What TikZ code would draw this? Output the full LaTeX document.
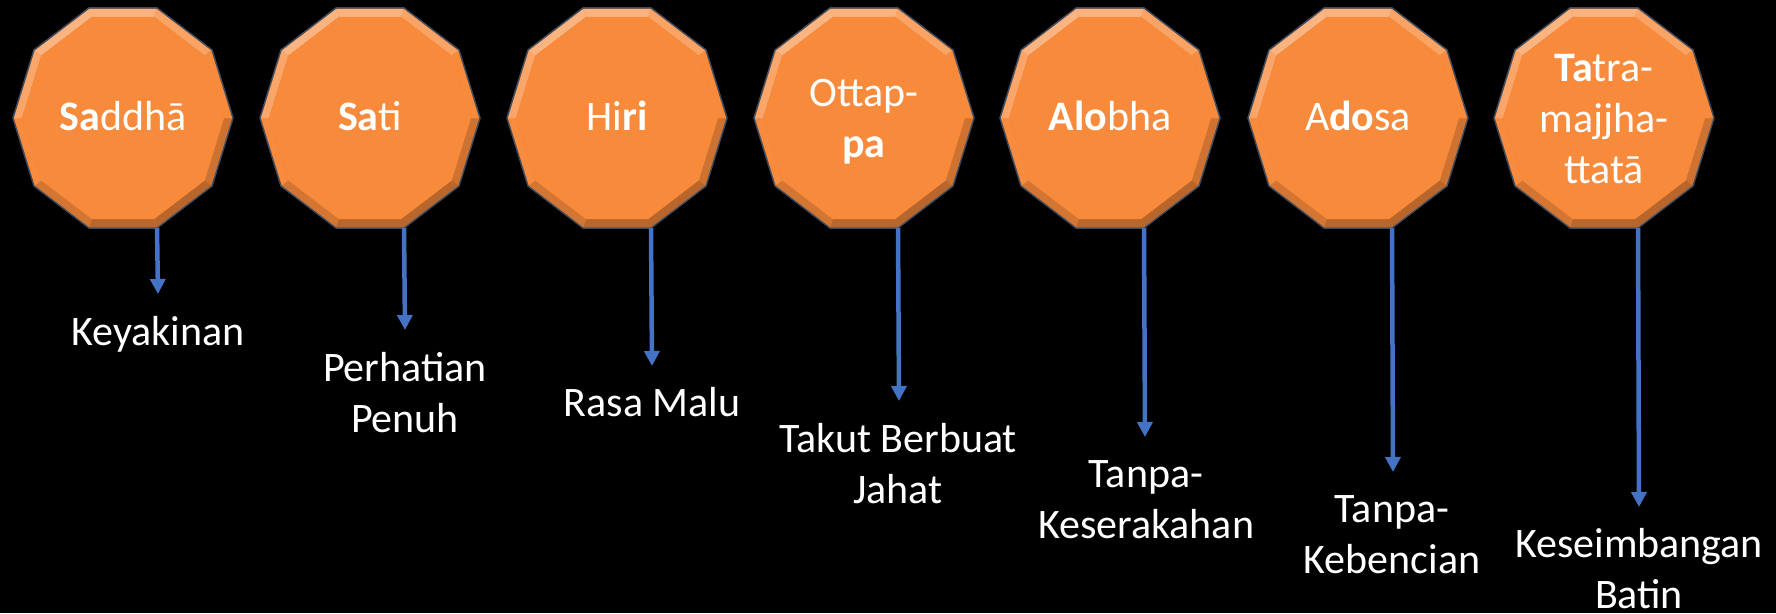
\documentclass[tikz,border=0pt]{standalone}
\usepackage{fontspec}
\setmainfont{Carlito}
\usetikzlibrary{arrows.meta}
\definecolor{orfill}{HTML}{F88A3C}
\definecolor{arrblue}{HTML}{4472C4}
\definecolor{rimline}{HTML}{3F4D60}
\tikzset{
  shapetext/.style={anchor=base, align=center, text=white, inner sep=0pt,
    font=\fontsize{42}{51}\selectfont},
  labeltext/.style={anchor=base, align=center, text=white, inner sep=0pt,
    font=\fontsize{42}{51}\selectfont},
  downarrow/.style={draw=arrblue, line width=4.5pt,
    -{Triangle[width=15pt,length=15pt]}}
}
\newcommand\decashape[3]{%
  \begin{scope}[shift={(#2,#3)}]
    \fill[orfill!85!black, draw=rimline, line width=1.5pt]
      (110,0) \foreach \k in {36,72,...,324}{ -- ({110*cos(\k)},{115.66*sin(\k)})} -- cycle;
    \foreach \i in {0,...,9}{
      \pgfmathsetmacro\angA{36*\i}
      \pgfmathsetmacro\angB{36*\i+36}
      \pgfmathsetmacro\lt{cos(36*\i+18-250)}
      \pgfmathtruncatemacro\pw{max(0,\lt)*38}
      \pgfmathtruncatemacro\pb{max(0,-\lt)*28}
      \ifnum\pw>0 \colorlet{facetcol}{white!\pw!orfill}\else\colorlet{facetcol}{black!\pb!orfill}\fi
      \fill[facetcol]
        ({109*cos(\angA)},{114.6*sin(\angA)}) -- ({109*cos(\angB)},{114.6*sin(\angB)})
        -- ({101*cos(\angB)},{106.2*sin(\angB)}) -- ({101*cos(\angA)},{106.2*sin(\angA)}) -- cycle;
    }
    \fill[orfill]
      (101,0) \foreach \k in {36,72,...,324}{ -- ({101*cos(\k)},{106.2*sin(\k)})} -- cycle;
  \end{scope}
  \coordinate (#1) at (#2,#3);
}
\begin{document}
\begin{tikzpicture}[x=1pt,y=-1pt]
\fill[black] (0,0) rectangle (1776,613);
\useasboundingbox (0,0) rectangle (1776,613);

% shapes
\decashape{c1}{123}{118}
\decashape{c2}{370}{118}
\decashape{c3}{617}{118}
\decashape{c4}{864}{118}
\decashape{c5}{1110}{118}
\decashape{c6}{1358}{118}
\decashape{c7}{1604}{118}

% (anchor=base is the baseline of the last line)
\node[shapetext] (s1) at (123,130) {\textbf{Sa}ddhā};
\node[shapetext] (s2) at (370,130) {\textbf{Sa}ti};
\node[shapetext] (s3) at (617,130) {Hi\textbf{ri}};
\node[shapetext] (s4) at (864,157) {Ottap-\\\textbf{pa}};
\node[shapetext] (s5) at (1110,130) {\textbf{Alo}bha};
\node[shapetext] (s6) at (1358,130) {A\textbf{do}sa};
\node[shapetext] (s7) at (1604,183) {\textbf{Ta}tra-\\majjha-\\ttatā};

% arrow ends
\coordinate (b1) at (157,228);  \coordinate (t1) at (158,294);
\coordinate (b2) at (404,228);  \coordinate (t2) at (405,330);
\coordinate (b3) at (651,228);  \coordinate (t3) at (652,366);
\coordinate (b4) at (898,228);  \coordinate (t4) at (899,401);
\coordinate (b5) at (1144,228); \coordinate (t5) at (1145,437);
\coordinate (b6) at (1392,228); \coordinate (t6) at (1393,472);
\coordinate (b7) at (1638,228); \coordinate (t7) at (1639,507);

\draw[downarrow] (b1) -- (t1);
\draw[downarrow] (b2) -- (t2);
\draw[downarrow] (b3) -- (t3);
\draw[downarrow] (b4) -- (t4);
\draw[downarrow] (b5) -- (t5);
\draw[downarrow] (b6) -- (t6);
\draw[downarrow] (b7) -- (t7);

% labels
\node[labeltext] (l1) at (158,345) {Keyakinan};
\node[labeltext] (l2) at (405,432) {Perhatian\\Penuh};
\node[labeltext] (l3) at (652,416) {Rasa Malu};
\node[labeltext] (l4) at (898,503) {Takut Berbuat\\Jahat};
\node[labeltext] (l5) at (1146,538) {Tanpa-\\Keserakahan};
\node[labeltext] (l6) at (1392,573) {Tanpa-\\Kebencian};
\node[labeltext] (l7) at (1639,608) {Keseimbangan\\Batin};
\end{tikzpicture}
\end{document}
